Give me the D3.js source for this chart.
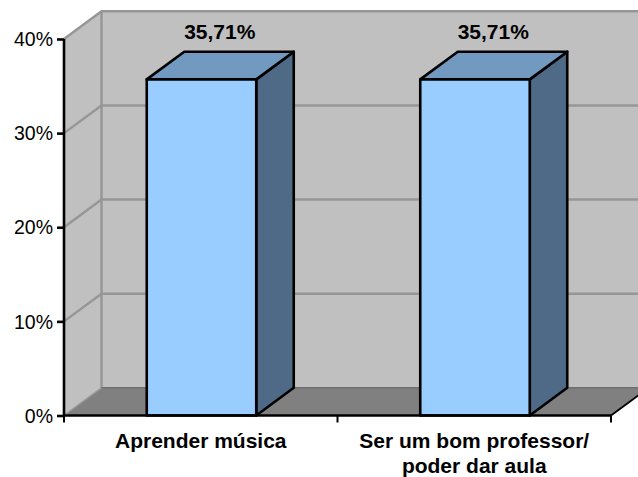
<!DOCTYPE html>
<html>
<head>
<meta charset="utf-8">
<script src="https://cdnjs.cloudflare.com/ajax/libs/d3/7.8.5/d3.min.js"></script>
<style>
html,body{margin:0;padding:0;background:#fff;overflow:hidden}
svg{display:block}
text{font-family:"Liberation Sans",Arial,sans-serif;fill:#000}
</style>
</head>
<body>
<div id="chart"></div>
<script>
// Survey answers and their shares, in percent
const categories = ["Aprender música", "Ser um bom professor/|poder dar aula"];
const shares = [35.71, 35.71];
const valueLabels = ["35,71%", "35,71%"];
const yTicks = [0, 10, 20, 30, 40];

const width = 638, height = 477;
const plot = {left: 64, right: 611, top: 39, bottom: 415.5};
const depth = {x: 37.5, y: -27.7};

const svg = d3.select("#chart").append("svg").attr("width", width).attr("height", height);

const y = d3.scaleLinear().domain([0, 40]).range([plot.bottom, plot.top]);
const x = d3.scaleBand().domain(categories).range([plot.left, plot.right]).paddingInner(0).paddingOuter(0);
const barWidth = 109.5;

const path = pts => "M" + pts.map(p => p.join(",")).join("L") + "Z";

// Side wall, back wall and floor of the 3D box
const back = {l: plot.left + depth.x, r: plot.right + depth.x, t: plot.top + depth.y, b: plot.bottom + depth.y};
svg.append("path").attr("fill", "#c0c0c0")
  .attr("d", path([[plot.left, plot.bottom], [plot.left, plot.top], [back.l, back.t], [back.l, back.b]]));
svg.append("rect").attr("fill", "#c0c0c0")
  .attr("x", back.l).attr("y", back.t).attr("width", back.r - back.l).attr("height", back.b - back.t);
svg.append("path").attr("fill", "#808080")
  .attr("d", path([[plot.left, plot.bottom], [back.l, back.b], [back.r, back.b], [plot.right, plot.bottom]]));

// Gridlines wrap from the side wall across the back wall
const gridColor = "#969696";
svg.append("g").attr("fill", "none").attr("stroke", gridColor).attr("stroke-width", 2.4)
  .selectAll("path").data(yTicks.slice(1)).join("path")
  .attr("d", d => `M${plot.left},${y(d)}L${back.l},${y(d) + depth.y}L${back.r},${y(d) + depth.y}`);
svg.append("path").attr("fill", "none").attr("stroke", gridColor).attr("stroke-width", 2.4)
  .attr("d", `M${back.l},${back.t}V${back.b}`);
svg.append("path").attr("fill", "none").attr("stroke", gridColor).attr("stroke-width", 1.5)
  .attr("d", `M${plot.left},${plot.bottom}L${back.l},${back.b}`);
svg.append("path").attr("fill", "none").attr("stroke", "#6e6e6e").attr("stroke-width", 1.5)
  .attr("d", `M${back.l},${back.b}H${back.r}`);

// Bars as three-faced prisms
const bars = svg.append("g").attr("stroke", "#000").attr("stroke-width", 2.6).attr("stroke-linejoin", "round")
  .selectAll("g").data(categories).join("g");
const bx = d => x(d) + (x.bandwidth() - barWidth) / 2 + 0.75;
const val = (d, i) => y(shares[i]);
bars.append("path").attr("fill", "#4f6a86")
  .attr("d", (d, i) => path([[bx(d) + barWidth, val(d, i)], [bx(d) + barWidth + depth.x, val(d, i) + depth.y],
    [bx(d) + barWidth + depth.x, plot.bottom + depth.y], [bx(d) + barWidth, plot.bottom]]));
bars.append("path").attr("fill", "#7299bf")
  .attr("d", (d, i) => path([[bx(d), val(d, i)], [bx(d) + depth.x, val(d, i) + depth.y],
    [bx(d) + barWidth + depth.x, val(d, i) + depth.y], [bx(d) + barWidth, val(d, i)]]));
bars.append("rect").attr("fill", "#99ccff")
  .attr("x", d => bx(d)).attr("y", val).attr("width", barWidth)
  .attr("height", (d, i) => plot.bottom - val(d, i));

// Value labels above each bar
svg.append("g").selectAll("text").data(categories).join("text")
  .attr("x", d => bx(d) + barWidth / 2 + 18.25)
  .attr("y", 38.5)
  .attr("text-anchor", "middle").attr("font-size", 21).attr("font-weight", "bold")
  .text((d, i) => valueLabels[i]);

// Value axis
const yAxis = svg.append("g").attr("transform", `translate(${plot.left},0)`)
  .call(d3.axisLeft(y).tickValues(yTicks).tickFormat(d => d + "%").tickSize(7).tickPadding(4));
yAxis.selectAll("path,line").attr("stroke", "#000").attr("stroke-width", 2.6);
yAxis.select(".domain").attr("d", `M0,${plot.top}V${plot.bottom}`);
yAxis.selectAll("text").attr("font-size", 19.5).attr("font-family", '"Liberation Sans",Arial,sans-serif').attr("dy", "0.34em");

// Category axis, with ticks on the band edges
const xAxis = svg.append("g");
xAxis.append("path").attr("stroke", "#000").attr("stroke-width", 2.6)
  .attr("d", `M${plot.left},${plot.bottom}H${plot.right}`);
xAxis.selectAll("line").data([plot.left, x(categories[1]), plot.right]).join("line")
  .attr("x1", d => d).attr("x2", d => d).attr("y1", plot.bottom).attr("y2", plot.bottom + 7)
  .attr("stroke", "#000").attr("stroke-width", 2);
xAxis.append("path").attr("fill", "none").attr("stroke", "#000").attr("stroke-width", 1.8)
  .attr("d", `M${plot.right},${plot.bottom}L${back.r},${back.b}`);
const catLabels = xAxis.selectAll("text").data(categories).join("text")
  .attr("text-anchor", "middle").attr("font-size", 21).attr("font-weight", "bold");
catLabels.selectAll("tspan").data(d => d.split("|").map(t => ({t, d}))).join("tspan")
  .attr("x", o => x(o.d) + x.bandwidth() / 2)
  .attr("y", (o, i) => 447.5 + i * 25.5)
  .text(o => o.t);
</script>
</body>
</html>
